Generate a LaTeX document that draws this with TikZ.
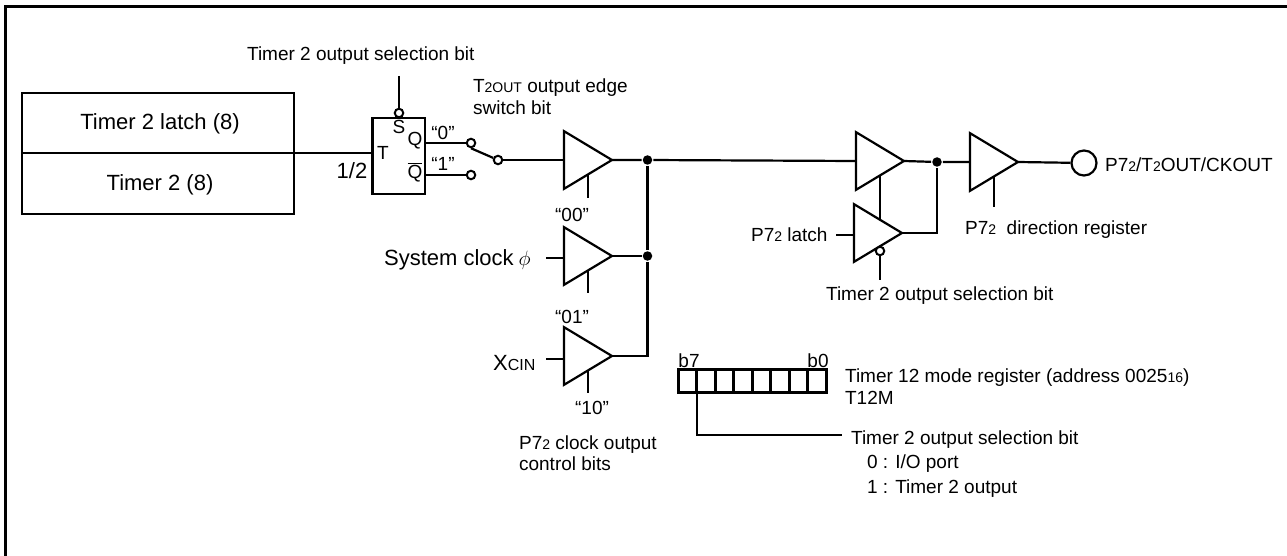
\documentclass[tikz,border=0pt]{standalone}
\usepackage{amsmath}
\usepackage{fontspec}
\setmainfont{Liberation Sans}
\usetikzlibrary{shapes.geometric,calc}

\tikzset{
  buffer/.style={draw,shape=isosceles triangle,shape border rotate=0,isosceles triangle apex angle=62,
    minimum height=48pt,inner sep=0pt,outer sep=0pt,anchor=lower side},
  wire/.style={line width=2.2pt},
  bubble/.style={draw,circle,line width=2pt,fill=white,minimum size=8.5pt,inner sep=0pt},
  junction/.style={fill=black,circle,minimum size=9.5pt,inner sep=0pt},
  lbl/.style={inner sep=0pt,anchor=west,font=\fontsize{19}{22}\selectfont},
  clbl/.style={inner sep=0pt,font=\fontsize{19}{22}\selectfont},
  biglbl/.style={inner sep=0pt,font=\fontsize{22}{26}\selectfont}
}
\newcommand{\sm}[1]{{\fontsize{14}{16}\selectfont #1}}

\begin{document}
\begin{tikzpicture}[x=1pt,y=-1pt,line width=2.2pt]
\useasboundingbox (0,0) rectangle (1287,556);

% Frame
\draw[line width=3pt] (5.5,556) -- (5.5,6.5) -- (1287,6.5);

% Timer blocks
\node[draw,minimum width=272pt,minimum height=60pt,inner sep=0pt,outer sep=0pt] (latch) at (158,123) {};
\node[draw,minimum width=272pt,minimum height=61pt,inner sep=0pt,outer sep=0pt] (timer) at (158,183.5) {};
\node[biglbl] (latchlbl) at (160,124) {Timer 2 latch (8)};
\node[biglbl] (timerlbl) at (160,185) {Timer 2 (8)};

% Flip-flop
\node[draw,minimum width=52.5pt,minimum height=76pt,inner sep=0pt,outer sep=0pt] (ff) at (398.75,156) {};
\node[clbl] (ffT) at (383,153) {T};
\node[clbl] (ffS) at (399,127) {S};
\node[clbl] (ffQ) at (415,141) {Q};
\node[clbl] (ffNQ) at (415,172) {$\overline{\mbox{Q}}$};
\node[biglbl] (half) at (352,171) {1/2};
\node[bubble] (sbub) at (399,113) {};
\coordinate (stop) at (399,76);
\draw[wire] (stop) -- (sbub);
\draw[wire] (timer.north east) -- (timer.north east -| ff.west);

% Switch
\node[bubble] (sw0) at (471,143) {};
\node[bubble] (sw1) at (471,175) {};
\node[bubble] (swc) at (498,160) {};
\draw[wire] (ff.east |- sw0) -- (sw0);
\draw[wire] (ff.east |- sw1) -- (sw1);
\draw[wire] (swc) -- (sw0.south);
\node[clbl] (q0) at (443,133) {``0''};
\node[clbl] (q1) at (443,164) {``1''};

% Buffers
\node[buffer] (bufA) at (564,160) {};
\node[buffer] (bufB) at (564,256) {};
\node[buffer] (bufC) at (564,356) {};
\node[buffer] (bufD) at (856,161) {};
\node[buffer] (bufE) at (854,233) {};
\node[buffer] (bufF) at (970,162) {};
\draw[wire] (swc) -- (bufA.lower side);

% Junctions
\node[junction] (jA) at (647.5,160) {};
\node[junction] (jB) at (647.5,256) {};
\node[junction] (jC) at (937,162) {};
\draw[wire] (bufA.apex) -- (jA) -- (bufD.lower side);
\draw[wire] (bufB.apex) -- (jB);
\draw[wire] (bufC.apex) -| (jB) -- (jA);
\draw[wire] (bufD.apex) -- (jC) -- (bufF.lower side);
\draw[wire] (bufE.apex) -| (jC);

% Control lines
\coordinate (midA) at ($(bufA.apex)!0.5!(bufA.right corner)$);
\coordinate (midB) at ($(bufB.apex)!0.5!(bufB.right corner)$);
\coordinate (midC) at ($(bufC.apex)!0.5!(bufC.right corner)$);
\coordinate (midD) at ($(bufD.apex)!0.5!(bufD.right corner)$);
\coordinate (midE) at ($(bufE.apex)!0.5!(bufE.left corner)$);
\coordinate (midF) at ($(bufF.apex)!0.5!(bufF.right corner)$);
\coordinate (inB) at (546,258);
\coordinate (inC) at (546,359);
\coordinate (inE) at (836,235);
\draw[wire] (midA) -- ++(0,24);
\draw[wire] (midB) -- ++(0,23);
\draw[wire] (midC) -- ++(0,23);
\draw[wire] (midF) -- ++(0,31);
\draw[wire] (midD) -- (midD |- midE);
\draw[wire] (inB) -- (inB -| bufB.lower side);
\draw[wire] (inC) -- (inC -| bufC.lower side);
\draw[wire] (inE) -- (inE -| bufE.lower side);
\node[bubble] (ebub) at (880,251) {};
\coordinate (ebot) at (880,280);
\draw[wire] (ebub) -- (ebot);

% Output pin
\node[draw,circle,minimum size=25pt,inner sep=0pt] (pin) at (1084,163) {};
\draw[wire] (bufF.apex) -- (pin);
\node[lbl] (pinlbl) at (1104,165) {P7\sm{2}/T\sm{2}OUT/CKOUT};

% Register
\foreach \i in {0,...,7} {
    \node[draw,line width=3pt,minimum width=18.5pt,minimum height=23pt,inner sep=0pt,outer sep=0pt] (reg\i) at (687.25+\i*18.5,380.5) {};
}
\coordinate (bitlbl) at (842,435);
\draw[wire] (reg1.south) ++(-9,0) |- (bitlbl);

% Labels
\node[lbl] (t1) at (246,56) {Timer 2 output selection bit};
\node[lbl] (t2) at (472,88) {T\sm{2OUT} output edge};
\node[lbl] (t3) at (472,108) {switch bit};
\node[clbl] (c00) at (572,215) {``00''};
\node[clbl] (c01) at (572,317) {``01''};
\node[clbl] (c10) at (592,408) {``10''};
\node[lbl,biglbl,anchor=west] (sysclk) at (383,260) {System clock\hspace{5pt}$\phi$};
\node[lbl,biglbl,anchor=west] (xcin) at (492,363) {X{\fontsize{16}{18}\selectfont CIN}};
\node[lbl] (p1) at (518,445) {P7\sm{2} clock output};
\node[lbl] (p2) at (518,464) {control bits};
\node[lbl] (lat) at (750,235) {P7\sm{2} latch};
\node[lbl] (t4) at (825,296) {Timer 2 output selection bit};
\node[lbl] (dir) at (964,230) {P7\sm{2}\ \ direction register};
\node[clbl] (b7) at (689,361) {b7};
\node[clbl] (b0) at (818,361) {b0};
\node[lbl] (m1) at (844,378) {Timer 12 mode register (address 0025\sm{16})};
\node[lbl] (m2) at (844,398) {T12M};
\node[lbl] (s1) at (850,440) {Timer 2 output selection bit};
\node[lbl] (s2) at (866,464) {0 : I/O port};
\node[lbl] (s3) at (866,489) {1 : Timer 2 output};

\end{tikzpicture}
\end{document}
